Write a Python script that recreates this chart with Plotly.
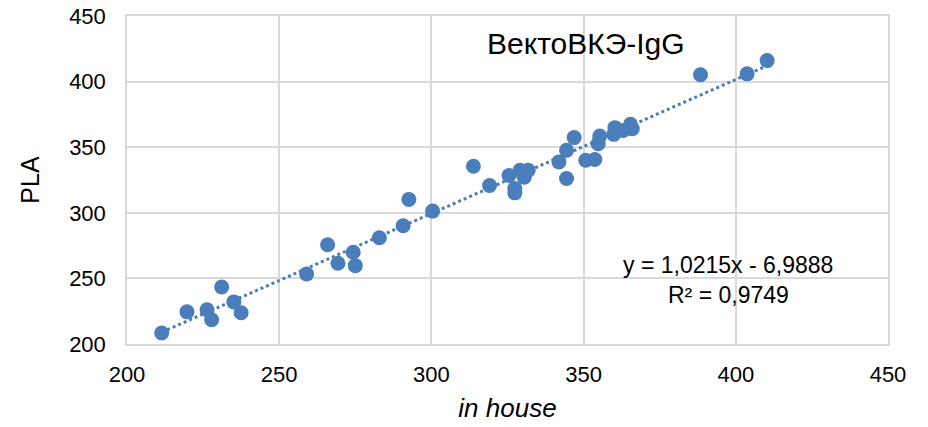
import plotly.graph_objects as go

in_house = [211.4, 219.7, 226.3, 227.8, 231.1, 235.1, 237.5, 259.0, 265.9, 269.3,
            274.3, 275.0, 282.9, 290.7, 292.6, 300.4, 313.8, 319.1, 325.5, 327.4,
            327.4, 329.1, 330.5, 331.8, 341.9, 344.4, 344.4, 346.9, 350.7, 353.7,
            354.8, 355.3, 359.9, 360.3, 363.0, 365.4, 366.0, 388.4, 403.7, 410.3]
pla = [208.4, 224.5, 226.1, 218.5, 243.5, 232.1, 223.8, 253.3, 275.7, 261.6,
       269.9, 259.7, 281.0, 290.1, 310.2, 301.3, 335.5, 320.8, 328.4, 318.5,
       315.2, 332.4, 327.1, 332.4, 338.8, 326.1, 347.6, 357.3, 340.0, 340.6,
       352.7, 358.5, 359.8, 364.9, 362.8, 367.4, 364.1, 405.2, 405.9, 416.0]

slope = 1.0215
intercept = -6.9888
r2 = 0.9749
title_text = "ВектоВКЭ-IgG"

x_min, x_max = min(in_house), max(in_house)
trend_x = [x_min, x_max]
trend_y = [slope * v + intercept for v in trend_x]

blue = "#4A7EBB"
font_family = "Liberation Sans, Arial, sans-serif"


def fmt(v):
    return str(v).replace('.', ',')


fig = go.Figure()
fig.add_trace(go.Scatter(x=trend_x, y=trend_y, mode="lines",
                         line=dict(color=blue, width=3, dash="dot"),
                         showlegend=False, hoverinfo="skip"))
fig.add_trace(go.Scatter(x=in_house, y=pla, mode="markers",
                         marker=dict(color=blue, size=15, line=dict(width=0)),
                         showlegend=False))

fig.add_annotation(x=0.603, y=0.915, xref="paper", yref="paper", text=title_text,
                   showarrow=False, font=dict(family=font_family, size=30, color="black"),
                   xanchor="center", yanchor="middle")
fig.add_annotation(x=0.790, y=0.240, xref="paper", yref="paper",
                   text=f"y = {fmt(slope)}x - {fmt(-intercept)}", borderpad=0,
                   showarrow=False, font=dict(family=font_family, size=23, color="black"),
                   xanchor="center", yanchor="middle")
fig.add_annotation(x=0.790, y=0.150, xref="paper", yref="paper",
                   text=f"R² = {fmt(r2)}", borderpad=0,
                   showarrow=False, font=dict(family=font_family, size=23, color="black"),
                   xanchor="center", yanchor="middle")

fig.update_layout(
    width=928, height=427,
    margin=dict(l=127, r=40, t=16, b=83),
    paper_bgcolor="white", plot_bgcolor="white",
    font=dict(family=font_family, size=22, color="black"),
    xaxis=dict(range=[200, 450], dtick=50, showgrid=True, gridcolor="#D9D9D9", gridwidth=1.5,
               zeroline=False, showline=True, linecolor="#D9D9D9", linewidth=1.5, mirror=True,
               ticks="", tickfont=dict(size=22), ticklabelstandoff=10, automargin=False,
               title=dict(text="<i>in house</i>", font=dict(size=26), standoff=13)),
    yaxis=dict(range=[200, 450], dtick=50, showgrid=True, gridcolor="#D9D9D9", gridwidth=1.5,
               zeroline=False, showline=True, linecolor="#D9D9D9", linewidth=1.5, mirror=True,
               ticks="", tickfont=dict(size=22), ticklabelstandoff=15, automargin=False,
               title=dict(text="PLA", font=dict(size=25), standoff=22)),
)

fig.write_html("out.html")
